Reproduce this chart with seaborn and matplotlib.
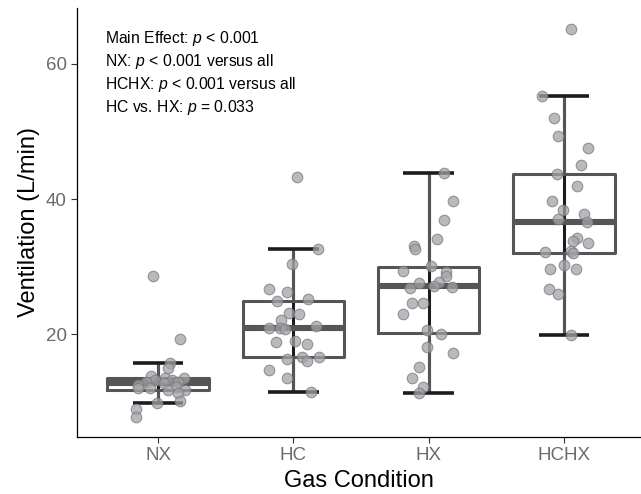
import numpy as np
import pandas as pd
import matplotlib
matplotlib.use("Agg")
import matplotlib.pyplot as plt
from matplotlib.cbook import boxplot_stats
import seaborn as sns

# values (L/min), with the horizontal jitter of each point
conditions = ["NX", "HC", "HX", "HCHX"]

nx_vent = [28.6, 19.3, 15.7, 15.0, 13.8, 13.6, 13.5, 13.3, 13.2, 13.0, 12.9, 12.8,
           12.5, 12.2, 12.0, 12.0, 11.8, 11.7, 11.3, 10.1, 9.9, 8.9, 7.7]
nx_jitter = [-0.04, 0.16, 0.09, 0.07, -0.05, 0.19, 0.05, 0.10, -0.02, 0.15, -0.09, 0.04,
             -0.15, 0.13, -0.15, -0.06, 0.20, 0.07, 0.15, 0.16, -0.01, -0.16, -0.16]

hc_vent = [43.3, 32.6, 30.4, 26.7, 26.2, 25.2, 24.9, 23.1, 23.0, 22.1, 21.0, 20.9,
           20.8, 21.2, 18.8, 19.0, 18.5, 16.4, 16.6, 16.1, 16.6, 14.7, 13.5, 11.4]
hc_jitter = [0.03, 0.18, -0.01, -0.18, -0.05, 0.11, -0.12, -0.03, 0.04, -0.09, -0.10, -0.18,
             -0.06, 0.17, -0.13, 0.01, 0.10, -0.05, 0.06, 0.10, 0.19, -0.18, -0.05, 0.13]

hx_vent = [43.9, 39.7, 36.9, 34.1, 33.0, 32.6, 30.1, 29.3, 29.2, 28.6, 27.7, 27.6, 27.0,
           26.9, 27.2, 24.7, 24.6, 23.0, 20.7, 20.0, 18.1, 17.3, 15.1, 13.5, 12.2, 11.3]
hx_jitter = [0.11, 0.18, 0.11, 0.06, -0.11, -0.10, 0.02, -0.19, 0.13, 0.13, 0.08, -0.07, 0.17,
             -0.14, 0.04, -0.04, -0.12, -0.19, -0.01, 0.09, -0.01, 0.18, -0.07, -0.12, -0.04, -0.07]

hchx_vent = [65.2, 55.3, 52.0, 49.3, 47.6, 45.0, 43.7, 41.9, 39.7, 38.4, 37.8, 37.0, 36.6,
             34.2, 33.8, 33.5, 32.3, 32.2, 32.1, 30.2, 29.6, 29.6, 26.7, 25.9, 19.9]
hchx_jitter = [0.05, -0.16, -0.07, -0.04, 0.18, 0.13, -0.05, 0.10, -0.09, -0.01, 0.15, -0.04, 0.17,
               0.10, 0.07, 0.18, 0.05, -0.14, 0.07, 0.0, -0.10, 0.09, -0.11, -0.04, 0.05]

stats_lines = [
    "Main Effect: $p$ < 0.001",
    "NX: $p$ < 0.001 versus all",
    "HCHX: $p$ < 0.001 versus all",
    "HC vs. HX: $p$ = 0.033",
]

sns.set_theme(style="ticks")
plt.rcParams["font.family"] = ["Liberation Sans", "DejaVu Sans"]
plt.rcParams["mathtext.fontset"] = "custom"
plt.rcParams["mathtext.rm"] = "Liberation Sans"
plt.rcParams["mathtext.it"] = "Liberation Sans:italic"

groups = [nx_vent, hc_vent, hx_vent, hchx_vent]
jitters = [nx_jitter, hc_jitter, hx_jitter, hchx_jitter]
frames = []
for i, (cond, vals, jit) in enumerate(zip(conditions, groups, jitters)):
    frames.append(pd.DataFrame({
        "condition": cond,
        "ventilation": vals,
        "xpos": i + np.array(jit),
    }))
df = pd.concat(frames, ignore_index=True)

fig = plt.figure(figsize=(6.41, 4.94), dpi=100)
ax = fig.add_axes([0.1201, 0.116, 0.8799, 0.868])

box_grey = "#555555"
cap_black = "#1c1c1c"

# errorbar-style black line between whisker ends (shows through the empty box)
for i, vals in enumerate(groups):
    st = boxplot_stats(np.array(vals), whis=1.5)[0]
    ax.vlines(i, st["whislo"], st["whishi"], color=cap_black, linewidth=2.2, zorder=1)

sns.boxplot(data=df, x="condition", y="ventilation", order=conditions, ax=ax,
            width=0.75, fill=False, color=box_grey, linewidth=2.2, whis=1.5,
            showfliers=False,
            medianprops={"linewidth": 4.4, "color": box_grey, "solid_capstyle": "butt"},
            whiskerprops={"linewidth": 2.2, "color": box_grey, "solid_capstyle": "butt"},
            capprops={"linewidth": 2.6, "color": cap_black, "solid_capstyle": "butt"})

sns.scatterplot(data=df, x="xpos", y="ventilation", ax=ax, color="#a3a3a8",
                edgecolor="#7a7a7f", s=58, linewidth=0.8, alpha=0.75, zorder=3,
                legend=False)

ax.set_xlim(-0.6, 3.57)
ax.set_ylim(4.85, 68.3)
ax.set_xticks(range(len(conditions)))
ax.set_xticklabels(conditions)
ax.set_yticks([20, 40, 60])
ax.set_xlabel("Gas Condition", fontsize=17, color="black")
ax.set_ylabel("Ventilation (L/min)", fontsize=17, color="black")
ax.tick_params(axis="both", labelsize=13.5, labelcolor="#6b6b6b", length=4,
               width=0.8, color="#333333")
sns.despine(ax=ax)
for side in ["left", "bottom"]:
    ax.spines[side].set_linewidth(0.9)
    ax.spines[side].set_color("black")

for k, line in enumerate(stats_lines):
    ax.text(0.049, 0.918 - k * 0.0535, line, transform=ax.transAxes,
            fontsize=11.3, va="baseline", ha="left", color="black")

fig.savefig("out.png", dpi=100)
